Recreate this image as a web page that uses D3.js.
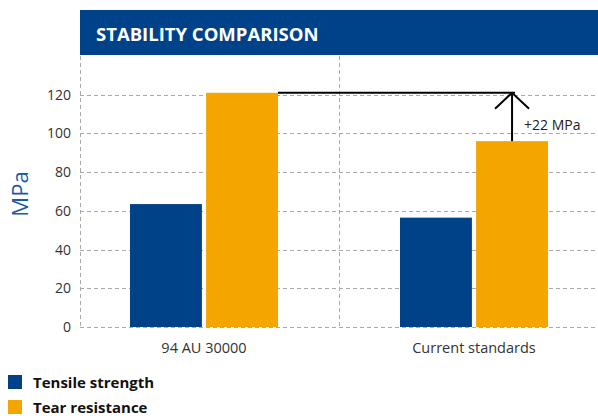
<!DOCTYPE html>
<html>
<head>
<meta charset="utf-8">
<script src="https://cdn.jsdelivr.net/npm/d3@7"></script>
<style>
  body { margin: 0; background: #fff; }
  text { font-family: "Open Sans", "Noto Sans", sans-serif; }
</style>
</head>
<body>
<svg id="chart" width="598" height="416"></svg>
<script>
var categories = ['94 AU 30000', 'Current standards'];
var seriesNames = ['Tensile strength', 'Tear resistance'];
var tensile = [63.5, 56.5];
var tear = [121, 96];
var yTicks = [0, 20, 40, 60, 80, 100, 120];
var deltaLabel = '+22 MPa';

var colors = ['#004288', '#f5a500'];

var svg = d3.select('#chart');
var plotLeft = 80, plotRight = 598, plotTop = 56, plotBottom = 327;

var y = d3.scaleLinear().domain([0, 140]).range([plotBottom, plotTop]);
var x = d3.scaleBand().domain(categories).range([69, 609]);
var inner = d3.scaleBand().domain(seriesNames).range([0, 148]).paddingInner(0.055);

// title banner
svg.append('rect').attr('x', 80).attr('y', 10).attr('width', 518).attr('height', 45).attr('fill', '#00428a');
svg.append('text').attr('x', 96).attr('y', 41).attr('fill', '#fff')
  .style('font-size', '18.5px').style('font-weight', 'bold').text('STABILITY COMPARISON');

// grid
var grid = svg.append('g').attr('stroke', '#aaa').attr('stroke-dasharray', '4,3').attr('stroke-width', 1);
grid.selectAll('line.h').data(yTicks).enter().append('line')
  .attr('x1', plotLeft).attr('x2', plotRight)
  .attr('y1', function(d){ return Math.round(y(d)) + 0.5; })
  .attr('y2', function(d){ return Math.round(y(d)) + 0.5; });
grid.append('line').attr('x1', plotLeft + 0.5).attr('x2', plotLeft + 0.5).attr('y1', plotTop).attr('y2', plotBottom);
var divider = x(categories[1]);
grid.append('line').attr('x1', divider + 0.5).attr('x2', divider + 0.5).attr('y1', plotTop).attr('y2', plotBottom);

// y tick labels
svg.selectAll('text.ytick').data(yTicks).enter().append('text')
  .attr('x', 71).attr('y', function(d){ return y(d) + 5; })
  .attr('text-anchor', 'end').attr('fill', '#333').style('font-size', '14px')
  .text(function(d){ return d; });

svg.append('text').attr('transform', 'translate(28,194) rotate(-90)')
  .attr('text-anchor', 'middle').attr('fill', '#1b5aa6').style('font-size', '22px').text('MPa');

// bars
var rows = categories.map(function(c, i){ return {cat: c, vals: [tensile[i], tear[i]]}; });
var groups = svg.selectAll('g.grp').data(rows).enter().append('g')
  .attr('transform', function(d){ return 'translate(' + (x(d.cat) + x.bandwidth()/2 - 74) + ',0)'; });
groups.selectAll('rect').data(function(d){ return d.vals; }).enter().append('rect')
  .attr('x', function(d, i){ return inner(seriesNames[i]); })
  .attr('width', inner.bandwidth())
  .attr('y', function(d){ return y(d); })
  .attr('height', function(d){ return plotBottom - y(d); })
  .attr('fill', function(d, i){ return colors[i]; });

// x labels
svg.selectAll('text.xl').data(categories).enter().append('text')
  .attr('x', function(d){ return x(d) + x.bandwidth()/2; }).attr('y', 353)
  .attr('text-anchor', 'middle').attr('fill', '#333').style('font-size', '14.5px')
  .text(function(d){ return d; });

// comparison arrow
var g0 = x(categories[0]) + x.bandwidth()/2 - 74;
var g1 = x(categories[1]) + x.bandwidth()/2 - 74;
var ax = g1 + inner(seriesNames[1]) + inner.bandwidth()/2;
var yHigh = y(tear[0]), yLow = y(tear[1]);
var ann = svg.append('g').attr('stroke', '#000').attr('stroke-width', 2).attr('fill', 'none');
ann.append('line').attr('x1', g0 + inner(seriesNames[1]) + inner.bandwidth()).attr('x2', ax + 3)
  .attr('y1', yHigh).attr('y2', yHigh);
ann.append('line').attr('x1', ax).attr('x2', ax).attr('y1', yHigh).attr('y2', yLow);
ann.append('path').attr('d', 'M' + (ax - 17) + ',' + (yHigh + 16) + 'L' + ax + ',' + yHigh + 'L' + (ax + 17) + ',' + (yHigh + 16));
svg.append('text').attr('x', ax + 12).attr('y', 130).attr('fill', '#222')
  .style('font-size', '14px').text(deltaLabel);

// legend
var leg = svg.selectAll('g.leg').data(seriesNames).enter().append('g')
  .attr('transform', function(d, i){ return 'translate(8,' + (375 + i * 25) + ')'; });
leg.append('rect').attr('width', 14).attr('height', 14).attr('fill', function(d, i){ return colors[i]; });
leg.append('text').attr('x', 25).attr('y', 13).attr('fill', '#111')
  .style('font-size', '15px').style('font-weight', 'bold').text(function(d){ return d; });
</script>
</body>
</html>
